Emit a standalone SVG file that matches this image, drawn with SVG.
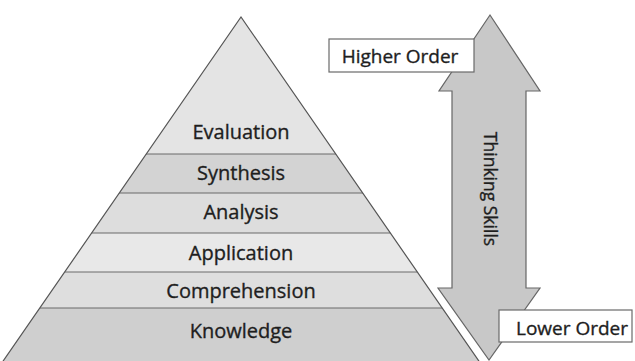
<svg xmlns="http://www.w3.org/2000/svg" width="635" height="361" viewBox="0 0 635 361">
  <defs>
    <style>
      .band { stroke: none; }
      .rule { stroke: #6a6a6a; stroke-width: 1.2; fill: none; }
      .outline { stroke: #555; stroke-width: 1.2; fill: none; }
      .lbl { font-family: "Open Sans", "Noto Sans", "Liberation Sans", sans-serif; font-size: 20px; fill: #1e1e1e; stroke: #1e1e1e; stroke-width: 0.35; text-anchor: middle; }
      .tagtxt { font-size: 19px; }
      .side { font-size: 17.5px; }
      .tag { fill: #fff; stroke: #6a6a6a; stroke-width: 1.2; }
    </style>
    <clipPath id="pyr">
      <polygon points="241,17 -10,380 492,380"/>
    </clipPath>
  </defs>
  <rect width="635" height="361" fill="#fff"/>

  <!-- pyramid levels -->
  <g clip-path="url(#pyr)">
    <g id="evaluation">
      <rect class="band" x="0" y="0" width="520" height="154" fill="#e4e4e4"/>
      <text class="lbl" x="241" y="139">Evaluation</text>
    </g>
    <g id="synthesis">
      <rect class="band" x="0" y="154" width="520" height="39" fill="#d3d3d3"/>
      <text class="lbl" x="241" y="180">Synthesis</text>
    </g>
    <g id="analysis">
      <rect class="band" x="0" y="193" width="520" height="40" fill="#dddddd"/>
      <text class="lbl" x="241" y="219">Analysis</text>
    </g>
    <g id="application">
      <rect class="band" x="0" y="233" width="520" height="39" fill="#e8e8e8"/>
      <text class="lbl" x="241" y="260">Application</text>
    </g>
    <g id="comprehension">
      <rect class="band" x="0" y="272" width="520" height="36" fill="#dedede"/>
      <text class="lbl" x="241" y="298">Comprehension</text>
    </g>
    <g id="knowledge">
      <rect class="band" x="0" y="308" width="520" height="60" fill="#cfcfcf"/>
      <text class="lbl" x="241" y="338">Knowledge</text>
    </g>
    <line class="rule" x1="0" y1="154" x2="520" y2="154"/>
    <line class="rule" x1="0" y1="193" x2="520" y2="193"/>
    <line class="rule" x1="0" y1="233" x2="520" y2="233"/>
    <line class="rule" x1="0" y1="272" x2="520" y2="272"/>
    <line class="rule" x1="0" y1="308" x2="520" y2="308"/>
  </g>
  <polyline class="outline" points="-10,380 241,17 492,380"/>

  <!-- thinking skills double arrow -->
  <g id="thinking-skills">
    <polygon points="490,15 540,91 526,91 526,288 540,288 489,360 438,288 452,288 452,91 439,91" fill="#c8c8c8" stroke="#666" stroke-width="1.2"/>
    <text class="lbl side" transform="translate(484,189) rotate(90)">Thinking Skills</text>
  </g>

  <g id="higher-order">
    <rect class="tag" x="329" y="39" width="145" height="33"/>
    <text class="lbl tagtxt" x="400" y="63">Higher Order</text>
  </g>

  <g id="lower-order">
    <rect class="tag" x="499" y="310" width="133" height="32"/>
    <text class="lbl tagtxt" x="572" y="335">Lower Order</text>
  </g>
</svg>
